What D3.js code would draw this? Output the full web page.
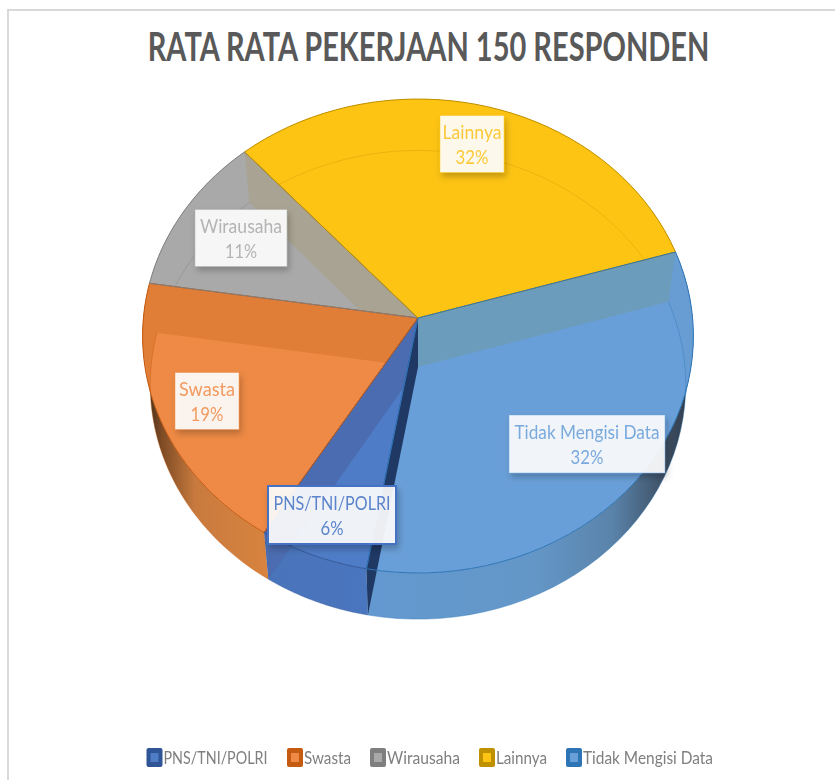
<!DOCTYPE html>
<html><head><meta charset="utf-8">
<script src="https://cdn.jsdelivr.net/npm/d3@7"></script>
<style>html,body{margin:0;padding:0;background:#fff}svg{display:block}</style>
</head><body><div id="chart"></div>
<script>
const categories = ["PNS/TNI/POLRI","Swasta","Wirausaha","Lainnya","Tidak Mengisi Data"];
const values = [6,18.6,11,32,32.4];
const faceColors = ["#4f7cc6","#ee8a45","#a9a9a9","#fdc414","#699fd8"];
const edgeColors = ["#2f5597","#c55a11","#7f7f7f","#bf9000","#2e75b6"];
const labelTextColors = ["#5b84cc","#f29a60","#b4b4b4","#fdc93a","#7aaadd"];
const titleText = "RATA RATA PEKERJAAN 150 RESPONDEN";

const W = 835, H = 780;
const svg = d3.select("#chart").append("svg").attr("width",W).attr("height",H);
const defs = svg.append("defs");
defs.append("filter").attr("id","sh").attr("x","-20%").attr("y","-20%").attr("width","140%").attr("height","150%")
  .append("feDropShadow").attr("dx",2).attr("dy",4).attr("stdDeviation",3).attr("flood-color","#000").attr("flood-opacity",0.25);
defs.append("filter").attr("id","soft").attr("x","-5%").attr("y","-20%").attr("width","110%").attr("height","140%")
  .append("feGaussianBlur").attr("stdDeviation",0.45);

// frame: left and top border only
svg.append("path").attr("d","M8,780V10H835").attr("stroke","#d9d9d9").attr("stroke-width",2).attr("fill","none");

const title = svg.append("text").attr("text-anchor","middle")
  .attr("font-family","Lato").attr("font-weight",700).attr("font-size",40)
  .attr("fill","#595959").text(titleText);
const titleW = title.node().getComputedTextLength();
title.attr("transform","translate(428.5,61) scale("+(562/titleW)+",1)");

// perspective projection of the pie disc; level 0 = top face, level 1 = floor
const cx=418, topY=318, botY=367, k=0.076;
function project(a, r, level){
  const X=Math.sin(a)*r, Y=Math.cos(a)*r, d=1+k*Y;
  const w = level? 267:274.6, h = level? 233:235.6, y0 = level? botY:topY;
  return [cx+w*X/d, y0-h*Y/d];
}
const rad = d=>d*Math.PI/180;
const startDeg = 190;
const pie = d3.pie().sort(null).startAngle(rad(startDeg)).endAngle(rad(startDeg+360));
const arcs = pie(values);
const line = d3.line();
const arcPts = (a0,a1,level)=> d3.range(0,41).map(i=>project(a0+(a1-a0)*i/40,1,level));
const apex = l=>project(0,0,l);

// front wall gradients, x-directed
const stops = [
 [[0,"#4a74ba"],[1,"#4a76bf"]],
 [[0,"#3b2a1e"],[0.13,"#7c4a24"],[0.4,"#c87a3e"],[1,"#d9843f"]],
 [[0,"#a0a0a0"],[1,"#a0a0a0"]],
 [[0,"#fdc414"],[1,"#fdc414"]],
 [[0,"#6399d0"],[0.5,"#6497c8"],[0.75,"#5a83aa"],[0.93,"#3a4a5c"],[1,"#2f3b4a"]]
];
const gx = [[267,370],[145,270],[150,245],[245,675],[370,694]];
stops.forEach((s,i)=>{
  const g=defs.append("linearGradient").attr("id","w"+i).attr("gradientUnits","userSpaceOnUse")
    .attr("x1",gx[i][0]).attr("x2",gx[i][1]).attr("y1",0).attr("y2",0);
  s.forEach(t=>g.append("stop").attr("offset",t[0]).attr("stop-color",t[1]));
});

const pie3d = svg.append("g");
const band=(a0,a1)=>line(arcPts(a0,a1,0).concat(arcPts(a0,a1,1).reverse()))+"Z";
// outer walls (front part shows below the top face)
arcs.forEach((d,i)=>{
  pie3d.append("path").attr("d",band(d.startAngle,d.endAngle)).attr("fill","url(#w"+i+")");
});
// top faces
const facePath=(d,l)=>line([apex(l),...arcPts(d.startAngle,d.endAngle,l)])+"Z";
pie3d.selectAll("path.face").data(arcs).join("path").attr("class","face")
  .attr("d",d=>facePath(d,0)).attr("fill",(d,i)=>faceColors[i]);
// far part of the outer wall, seen through the top face
pie3d.append("path").attr("d",band(rad(263),arcs[1].endAngle)).attr("fill","#e07d36");
pie3d.append("path").attr("d",band(arcs[4].startAngle,rad(458))).attr("fill","#689dd4");
// rim of the floor seen through the top
arcs.forEach((d,i)=>{
  pie3d.append("path").attr("d",line(arcPts(d.startAngle,d.endAngle,1)))
    .attr("fill","none").attr("stroke",edgeColors[i]).attr("stroke-opacity",i===3?0.3:0.4).attr("stroke-width",1);
});
// radial walls seen through the top, back to front; index = slice whose start edge carries the wall
const radialWall=a=>line([apex(0),project(a,1,0),project(a,1,1),apex(1)])+"Z";
const wallFills=["#1f3864","#4b6cb0","#e07d36","#a8a392","#6b9cbc"];
[4,3,2,1,0].forEach(n=>{
  pie3d.append("path").attr("d",radialWall(arcs[n].startAngle)).attr("fill",wallFills[n]);
});
// rim and edge strokes
pie3d.selectAll("path.rim").data(arcs).join("path").attr("class","rim")
  .attr("d",d=>facePath(d,0)).attr("fill","none")
  .attr("stroke",(d,i)=>edgeColors[i]).attr("stroke-width",1).attr("stroke-linejoin","round");

// data labels
const labelCenters=[[332,515],[207,401],[241,238],[472,144],[587,444]];
const labelSizes=[[128,58],[64,57],[92,57],[64,57],[156,58]];
const labelTextW=[117,56,82,59,145];
const pctTextW=[23,33,32,33,33];
const lab=svg.append("g").attr("font-family","Lato").attr("font-size",19.5).attr("text-anchor","middle");
const total=d3.sum(values);
categories.forEach((c,i)=>{
  const [x,y]=labelCenters[i],[w,h]=labelSizes[i];
  lab.append("rect").attr("x",x-w/2).attr("y",y-h/2).attr("width",w).attr("height",h)
    .attr("fill","#fff").attr("fill-opacity",0.9).attr("filter","url(#sh)")
    .attr("stroke",i===0?"#4472c4":faceColors[i]).attr("stroke-opacity",i===0?1:0.45).attr("stroke-width",i===0?2:1);
  lab.append("text").attr("x",x).attr("y",y-5).attr("fill",labelTextColors[i]).attr("filter","url(#soft)")
    .attr("textLength",labelTextW[i]).attr("lengthAdjust","spacingAndGlyphs").text(c);
  lab.append("text").attr("x",x).attr("y",y+20).attr("fill",labelTextColors[i]).attr("filter","url(#soft)")
    .attr("textLength",pctTextW[i]).attr("lengthAdjust","spacingAndGlyphs").text(Math.round(values[i]/total*100)+"%");
});

// legend
const legendX=[146.5,287,370,479,566];
const legendW=[104,47,73,51,130];
const leg=svg.append("g").attr("font-family","Lato").attr("font-size",17).attr("fill","#7f7f7f");
categories.forEach((c,i)=>{
  const x=legendX[i];
  leg.append("rect").attr("x",x).attr("y",748).attr("width",16).attr("height",19).attr("rx",2).attr("fill",edgeColors[i]);
  leg.append("rect").attr("x",x+4).attr("y",753).attr("width",8).attr("height",9).attr("fill",faceColors[i]);
  leg.append("text").attr("x",x+17).attr("y",763.5).attr("textLength",legendW[i]).attr("lengthAdjust","spacingAndGlyphs").attr("filter","url(#soft)").text(c);
});
</script></body></html>
